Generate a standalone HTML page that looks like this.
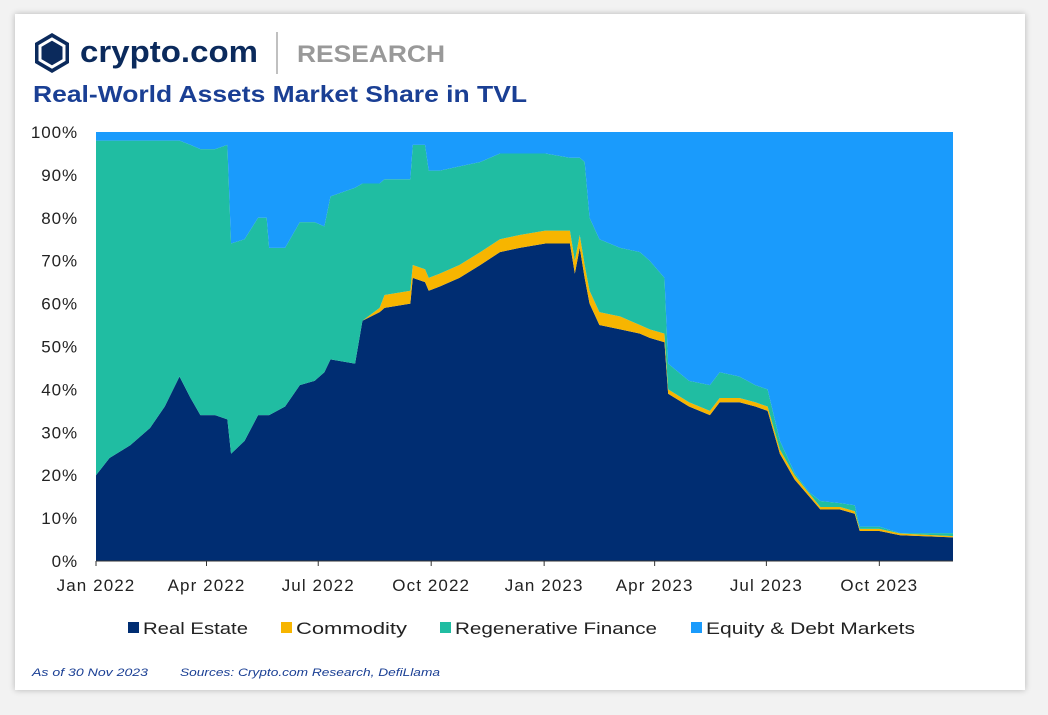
<!DOCTYPE html>
<html><head><meta charset="utf-8"><style>
body{margin:0;width:1048px;height:715px;background:#f2f2f2;font-family:"Liberation Sans",sans-serif;overflow:hidden}
#card{position:absolute;left:15px;top:14px;width:1010px;height:676px;background:#fff;box-shadow:0 0 6px rgba(0,0,0,.25)}
svg{position:absolute;left:0;top:0}
</style></head><body>
<div id="card"></div>
<svg id="c" width="1048" height="715">
<g>
<polygon points="52,33 69,43 69,63 52,73 35,63 35,43" fill="#0b2a5c"/>
<polygon points="52,39 64,46 64,60 52,67 40,60 40,46" fill="none" stroke="#fff" stroke-width="3"/>
<text x="80" y="62" font-size="31" font-weight="bold" fill="#0b2a5c" textLength="178" lengthAdjust="spacingAndGlyphs">crypto.com</text>
<line x1="277" y1="32" x2="277" y2="74" stroke="#aaa" stroke-width="1.5"/>
<text x="297" y="62" font-size="24" font-weight="bold" fill="#999" textLength="148" lengthAdjust="spacingAndGlyphs">RESEARCH</text>
</g>
<text x="33" y="102" font-size="23" font-weight="bold" fill="#1a3f94" textLength="494" lengthAdjust="spacingAndGlyphs">Real-World Assets Market Share in TVL</text>
<g id="plot"></g>
<text x="32" y="676" font-size="11" font-style="italic" fill="#1a3f94" textLength="116" lengthAdjust="spacingAndGlyphs">As of 30 Nov 2023</text>
<text x="180" y="676" font-size="11" font-style="italic" fill="#1a3f94" textLength="260" lengthAdjust="spacingAndGlyphs">Sources: Crypto.com Research, DefiLlama</text>
</svg>
<script>
const days=[0,11,28,44,56,68,77,85,97,107,110,121,132,139,141,154,166,178,186,191,211,217,231,235,256,258,268,271,280,296,313,329,345,366,386,390,394,398,402,410,427,443,451,463,466,483,500,508,524,537,547,557,569,581,590,606,618,622,638,655,698];
const realEstate=[20,24,27,31,36,43,38,34,34,33,25,28,34,34,34,36,41,42,44,47,46,56,58,59,60,66,65,63,64,66,69,72,73,74,74,67,73,66,60,55,54,53,52,51,39,36,34,37,37,36,35,25,19,15,12,12,11,7,7,6,5.5];
const commodity=[0,0,0,0,0,0,0,0,0,0,0,0,0,0,0,0,0,0,0,0,0,0,1,3,3,3,3,3,3,3,3,3,3,3,3,3,3,3,3,3,3,2,2,2,1,1,1,1,1,1,1,1,1,0.7,0.6,0.6,0.6,0.5,0.5,0.4,0.3];
const regen=[78,74,71,67,62,55,59,62,62,64,49,47,46,46,39,37,38,37,34,38,41,32,29,27,26,28,29,25,24,23,21,20,19,18,17,24,18,24,17,17,16,17,16,13,6,5,6,6,5,4,4,2,0.5,0.3,1.4,0.9,1.4,0.5,0.5,0.1,0.7];
const yTicks=[0,10,20,30,40,50,60,70,80,90,100];
const xTickLabels=["Jan 2022","Apr 2022","Jul 2022","Oct 2022","Jan 2023","Apr 2023","Jul 2023","Oct 2023"];
const xTickDays=[0,90,181,273,365,455,546,638];
const seriesNames=["Real Estate","Commodity","Regenerative Finance","Equity & Debt Markets"];
const colors=["#002d72","#f7b500","#20bda2","#1a9bfc"];
const X0=96,X1=953,Y0=561,Y1=132,D=698;
const xs=d=>X0+(X1-X0)*d/D, ys=v=>Y0-(Y0-Y1)*v/100;
const NS="http://www.w3.org/2000/svg",g=document.getElementById('plot');
function mk(t,a){const e=document.createElementNS(NS,t);for(const k in a)e.setAttribute(k,a[k]);g.appendChild(e);return e;}
const eq=days.map((d,i)=>Math.max(0,100-realEstate[i]-commodity[i]-regen[i]));
const layers=[realEstate,commodity,regen,eq];
let base=days.map(()=>0);
layers.forEach((L,k)=>{
 const top=base.map((b,i)=>b+L[i]);
 let p="M"+days.map((d,i)=>xs(d)+","+ys(top[i])).join("L");
 for(let i=days.length-1;i>=0;i--)p+="L"+xs(days[i])+","+ys(base[i]);
 const e=mk('path',{d:p+"Z",fill:colors[k]});
 
 
 base=top;
});
yTicks.forEach(v=>{const t=mk('text',{x:78,y:ys(v)+6,'font-size':17,fill:'#222','text-anchor':'end','letter-spacing':0.9});t.textContent=v+'%';
 
 });
mk('line',{x1:X0,x2:X1,y1:Y0,y2:Y0,stroke:'#333'});
xTickDays.forEach((d,i)=>{mk('line',{x1:xs(d),x2:xs(d),y1:Y0,y2:Y0+5,stroke:'#333'});
 const t=mk('text',{x:xs(d),y:591,'font-size':17,fill:'#222','text-anchor':'middle','letter-spacing':1.1});t.textContent=xTickLabels[i];
 
 });
const lx=[128,281,440,691],lw=[105,111,202,209];
seriesNames.forEach((n,i)=>{
 const r=mk('rect',{x:lx[i],y:622,width:11,height:11,fill:colors[i]});
 
 
 const t=mk('text',{x:lx[i]+15,y:634,'font-size':17,fill:'#222',textLength:lw[i],lengthAdjust:'spacingAndGlyphs'});t.textContent=n;
 
 
});
</script>
</body></html>
